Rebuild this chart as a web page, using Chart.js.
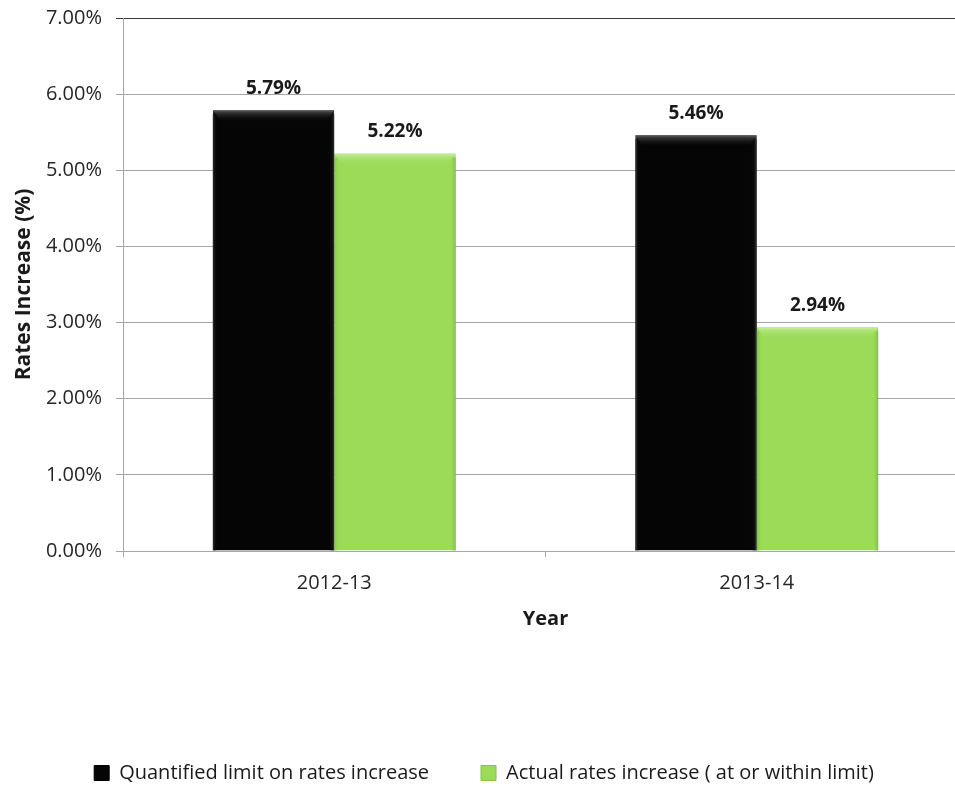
<!DOCTYPE html>
<html>
<head>
<meta charset="utf-8">
<title>Rates Increase</title>
<script src="https://cdn.jsdelivr.net/npm/chart.js@4.4.1/dist/chart.umd.min.js"></script>
<style>
  html, body { margin: 0; padding: 0; background: #ffffff; overflow: hidden; }
  #wrap { width: 968px; height: 793px; }
</style>
</head>
<body>
<div id="wrap"><canvas id="rates-chart"></canvas></div>
<script>
// Dati del grafico
const years = ['2012-13', '2013-14'];
const quantifiedLimit = [5.79, 5.46];
const actualIncrease = [5.22, 2.94];
const seriesNames = ['Quantified limit on rates increase', 'Actual rates increase ( at or within limit)'];
const yTickValues = [0, 1, 2, 3, 4, 5, 6, 7];

const FONT = "'Open Sans', 'Noto Sans', sans-serif";
const GRID = '#a6a6a6';

/**
 * Disegna un leggero effetto "bevel" sopra ogni barra (bordo superiore chiaro, lati scuri).
 */
const bevelPlugin = {
    id: 'bevel',
    afterDatasetsDraw(chart) {
        const ctx = chart.ctx;
        chart.data.datasets.forEach((ds, i) => {
            chart.getDatasetMeta(i).data.forEach(bar => {
                const { x, y, base, width } = bar.getProps(['x', 'y', 'base', 'width'], true);
                const left = x - width / 2;
                const right = x + width / 2;
                ctx.save();
                // fascia superiore
                let g = ctx.createLinearGradient(0, y, 0, y + 12);
                g.addColorStop(0, ds.bevelLight);
                g.addColorStop(1, ds.bevelClear);
                ctx.fillStyle = g;
                ctx.beginPath();
                ctx.moveTo(left, y);
                ctx.lineTo(right, y);
                ctx.lineTo(right - 8, y + 12);
                ctx.lineTo(left + 8, y + 12);
                ctx.closePath();
                ctx.fill();
                // lato destro
                g = ctx.createLinearGradient(right - 6, 0, right, 0);
                g.addColorStop(0, ds.bevelClear);
                g.addColorStop(1, ds.bevelDark);
                ctx.fillStyle = g;
                ctx.fillRect(right - 6, y + 4, 6, base - y - 4);
                // lato sinistro
                g = ctx.createLinearGradient(left, 0, left + 5, 0);
                g.addColorStop(0, ds.bevelDark);
                g.addColorStop(1, ds.bevelClear);
                ctx.fillStyle = g;
                ctx.fillRect(left, y + 4, 5, base - y - 4);
                ctx.restore();
            });
        });
    }
};

/**
 * Scrive il valore percentuale sopra ogni barra.
 */
const valueLabelPlugin = {
    id: 'valueLabels',
    afterDatasetsDraw(chart) {
        const ctx = chart.ctx;
        ctx.save();
        ctx.font = `bold 19px ${FONT}`;
        ctx.fillStyle = '#1a1a1a';
        ctx.textAlign = 'center';
        ctx.textBaseline = 'middle';
        chart.data.datasets.forEach((ds, i) => {
            chart.getDatasetMeta(i).data.forEach((bar, j) => {
                ctx.fillText(`${ds.data[j].toFixed(2)}%`, bar.x, bar.y - 22);
            });
        });
        ctx.restore();
    }
};

function renderRatesChart() {
    const ctx = document.getElementById('rates-chart').getContext('2d');

    new Chart(ctx, {
        type: 'bar',
        data: {
            labels: years,
            datasets: [{
                label: seriesNames[0],
                data: quantifiedLimit,
                backgroundColor: '#050505',
                borderColor: '#000000',
                borderWidth: 1,
                bevelLight: 'rgba(90, 90, 90, 0.9)',
                bevelDark: 'rgba(40, 40, 40, 0.8)',
                bevelClear: 'rgba(5, 5, 5, 0)'
            }, {
                label: seriesNames[1],
                data: actualIncrease,
                backgroundColor: '#9bdb58',
                borderColor: '#86c44a',
                borderWidth: 1,
                bevelLight: 'rgba(200, 240, 160, 0.9)',
                bevelDark: 'rgba(120, 180, 70, 0.8)',
                bevelClear: 'rgba(155, 219, 88, 0)'
            }]
        },
        options: {
            responsive: true,
            maintainAspectRatio: false,
            animation: false,
            layout: { padding: { top: 18, left: 0, right: 0, bottom: 0 } },
            datasets: {
                bar: { categoryPercentage: 0.575, barPercentage: 1.0 }
            },
            scales: {
                x: {
                    offset: true,
                    afterFit: (scale) => { scale.height = 160; },
                    grid: {
                        display: true,
                        offset: true,
                        drawOnChartArea: false,
                        drawTicks: true,
                        tickLength: 6,
                        color: GRID
                    },
                    border: { display: true, color: GRID, width: 1 },
                    ticks: {
                        color: '#262626',
                        padding: 14,
                        font: { family: FONT, size: 20 }
                    },
                    title: {
                        display: true,
                        text: 'Year',
                        color: '#1a1a1a',
                        font: { family: FONT, size: 20, weight: 'bold' },
                        padding: { top: 4, bottom: 80 }
                    }
                },
                y: {
                    min: 0,
                    max: 7,
                    afterFit: (scale) => {
                        // larghezza fissa e nessun margine extra sopra l'asse
                        scale.width = 123;
                        scale.paddingTop = 0;
                        scale.paddingBottom = 0;
                    },
                    afterBuildTicks: (scale) => {
                        scale.ticks = yTickValues.map(v => ({ value: v }));
                    },
                    grid: {
                        color: (c) => c.tick && c.tick.value === 7 ? '#3a3a3a' : GRID,
                        lineWidth: 1,
                        tickLength: 7,
                        drawTicks: true
                    },
                    border: { display: true, color: GRID, width: 1 },
                    ticks: {
                        color: '#262626',
                        padding: 14,
                        font: { family: FONT, size: 20 },
                        callback: (v) => `${Number(v).toFixed(2)}%`
                    },
                    title: {
                        display: true,
                        text: 'Rates Increase (%)',
                        color: '#1a1a1a',
                        font: { family: FONT, size: 21, weight: 'bold' },
                        padding: { top: 11, bottom: 0 }
                    }
                }
            },
            plugins: {
                legend: {
                    display: true,
                    position: 'bottom',
                    align: 'center',
                    labels: {
                        color: '#1a1a1a',
                        boxWidth: 15,
                        boxHeight: 15,
                        padding: 52,
                        font: { family: FONT, size: 20 }
                    }
                },
                tooltip: { enabled: false }
            }
        },
        plugins: [bevelPlugin, valueLabelPlugin]
    });
}

document.addEventListener('DOMContentLoaded', renderRatesChart);
</script>
</body>
</html>
